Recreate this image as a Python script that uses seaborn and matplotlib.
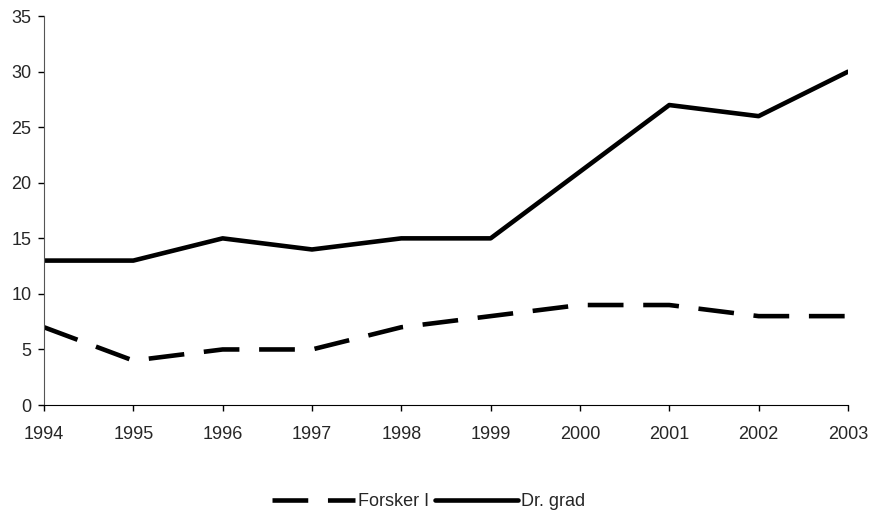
import pandas as pd
import seaborn as sns
import matplotlib.pyplot as plt
from matplotlib.lines import Line2D

years = [1994, 1995, 1996, 1997, 1998, 1999, 2000, 2001, 2002, 2003]
forsker = [7, 4, 5, 5, 7, 8, 9, 9, 8, 8]
drgrad = [13, 13, 15, 14, 15, 15, 21, 27, 26, 30]

df = pd.DataFrame({'year': years * 2,
                   'value': forsker + drgrad,
                   'serie': ['Forsker I'] * len(years) + ['Dr. grad'] * len(years)})

sns.set_style('white')
plt.rcParams['font.family'] = ['Liberation Sans', 'DejaVu Sans']

fig = plt.figure(figsize=(8.71, 5.13), dpi=100)
ax = fig.add_axes([0.0505, 0.2105, 0.923, 0.758])

dash = (7.8, 4.3)
sns.lineplot(data=df, x='year', y='value', style='serie', color='black',
             dashes={'Forsker I': dash, 'Dr. grad': ''}, linewidth=3.3,
             ax=ax, legend=False)

ax.set_xlim(1994, 2003)
ax.set_ylim(0, 35)
ax.set_xticks(years)
ax.set_yticks(range(0, 36, 5))
ax.tick_params(labelsize=13, length=4, width=1, color='black', direction='out',
               bottom=True, left=True)
ax.tick_params(axis='x', pad=11)
ax.tick_params(axis='y', pad=5)
ax.set_xlabel('')
ax.set_ylabel('')
for s in ['top', 'right']:
    ax.spines[s].set_visible(False)
ax.spines['left'].set_color('#555555')
ax.spines['bottom'].set_color('black')

handles = [Line2D([], [], color='black', lw=3.3, dashes=dash),
           Line2D([], [], color='black', lw=3.3)]
fig.legend(handles, ['Forsker I', 'Dr. grad'], loc='center', bbox_to_anchor=(0.492, 0.022),
           ncol=2, frameon=False, fontsize=13, handlelength=4.6, handletextpad=0.15,
           columnspacing=0.35)

fig.savefig('out.png', dpi=100)
